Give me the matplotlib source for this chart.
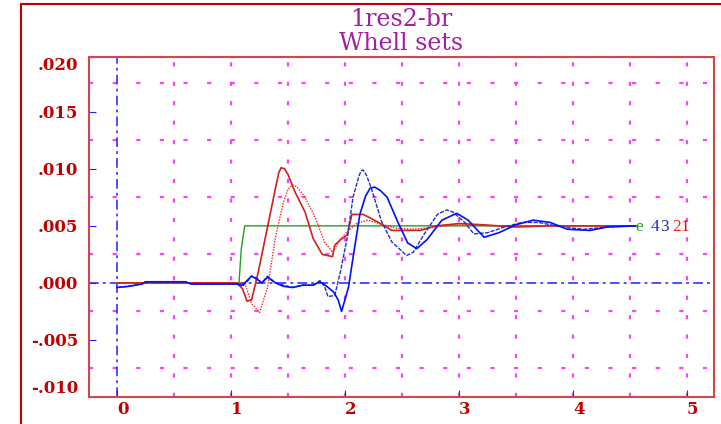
import matplotlib
matplotlib.use('Agg')
from matplotlib import pyplot as plt
from matplotlib.patches import Rectangle
import numpy as np

plt.rcParams['lines.scale_dashes'] = False

# wheel set responses (time s, value)
x1 = [0, 0.6, 1.05, 1.10, 1.14, 1.18, 1.24, 1.32, 1.39, 1.42, 1.44, 1.47, 1.50, 1.56, 1.65, 1.72,
      1.80, 1.89, 1.91, 1.96, 2.02, 2.06, 2.16, 2.22, 2.33, 2.41, 2.55, 2.66, 2.8, 3.0, 3.2, 3.5,
      3.8, 4.2, 4.55]
y1 = [0, 0, 0, -0.0005, -0.0016, -0.0015, 0.0010, 0.0049, 0.0083, 0.0097, 0.0101, 0.0100, 0.0095,
      0.0080, 0.0062, 0.0039, 0.0025, 0.0023, 0.0033, 0.0038, 0.0042, 0.0060, 0.0060, 0.0057,
      0.0051, 0.0046, 0.0046, 0.0046, 0.0050, 0.0052, 0.0051, 0.0049, 0.0050, 0.0050, 0.0050]

x2 = [0, 1.05, 1.12, 1.18, 1.25, 1.32, 1.39, 1.46, 1.50, 1.54, 1.58, 1.65, 1.74, 1.82, 1.89, 1.94,
      2.0, 2.1, 2.2, 2.3, 2.45, 2.6, 2.8, 3.0, 3.3, 3.6, 4.0, 4.55]
y2 = [0, 0, 0, -0.0018, -0.0026, -0.0004, 0.0040, 0.0071, 0.0082, 0.0086, 0.0084, 0.0075, 0.0057,
      0.0036, 0.0027, 0.0035, 0.0043, 0.0052, 0.0055, 0.0052, 0.0048, 0.0047, 0.0049, 0.0051,
      0.0050, 0.0050, 0.0050, 0.0050]

x3 = [0, 0.1, 0.22, 0.25, 0.6, 0.65, 1.05, 1.10, 1.14, 1.18, 1.23, 1.27, 1.32, 1.39, 1.46, 1.54,
      1.63, 1.72, 1.78, 1.82, 1.85, 1.91, 1.96, 2.02, 2.07, 2.12, 2.14, 2.16, 2.19, 2.23, 2.32,
      2.41, 2.54, 2.60, 2.69, 2.81, 2.89, 2.95, 3.05, 3.13, 3.25, 3.4, 3.55, 3.7, 3.9, 4.1, 4.3,
      4.55]
y3 = [-0.0004, -0.0003, -0.0001, 0.0001, 0.0001, -0.0001, -0.0001, -0.0003, 0.0001, 0.0006,
      0.0004, 0.0000, 0.0006, 0.0000, -0.0002, -0.0004, -0.0002, -0.0002, 0.0002, -0.0003,
      -0.0012, -0.0011, 0.0010, 0.0040, 0.0075, 0.0093, 0.0098, 0.0099, 0.0094, 0.0083, 0.0054,
      0.0036, 0.0024, 0.0027, 0.0042, 0.0060, 0.0064, 0.0062, 0.0053, 0.0043, 0.0044, 0.0049,
      0.0053, 0.0053, 0.0049, 0.0047, 0.0049, 0.0050]

x4 = [0, 0.1, 0.22, 0.25, 0.6, 0.65, 1.05, 1.10, 1.14, 1.18, 1.23, 1.27, 1.32, 1.39, 1.46, 1.54,
      1.63, 1.72, 1.78, 1.84, 1.90, 1.94, 1.97, 2.03, 2.07, 2.13, 2.18, 2.22, 2.26, 2.31, 2.37,
      2.46, 2.55, 2.63, 2.72, 2.85, 2.98, 3.08, 3.22, 3.35, 3.5, 3.65, 3.8, 3.95, 4.15, 4.3, 4.55]
y4 = [-0.0004, -0.0003, -0.0001, 0.0001, 0.0001, -0.0001, -0.0001, -0.0002, 0.0002, 0.0006,
      0.0003, 0.0000, 0.0005, 0.0000, -0.0003, -0.0004, -0.0002, -0.0002, 0.0001, -0.0003,
      -0.0008, -0.0015, -0.0025, -0.0004, 0.0022, 0.0060, 0.0076, 0.0083, 0.0084, 0.0081,
      0.0075, 0.0054, 0.0035, 0.0030, 0.0038, 0.0055, 0.0061, 0.0055, 0.0040, 0.0044, 0.0051,
      0.0055, 0.0053, 0.0047, 0.0046, 0.0049, 0.0050]

xe = [0, 1.07, 1.09, 1.12, 4.55]
ye = [0, 0, 0.003, 0.005, 0.005]

xticks = [0, 1, 2, 3, 4, 5]
yticks = [-0.010, -0.005, 0.000, 0.005, 0.010, 0.015, 0.0198]
ylabels = ['-.010', '-.005', '.000', '.005', '.010', '.015', '.020']
grid_x = [0.5, 1, 1.5, 2, 2.5, 3, 3.5, 4, 4.5, 5]
grid_y = [-0.0075, -0.0025, 0.0025, 0.0075, 0.0125, 0.0175, 0.0198]

fig = plt.figure(figsize=(7.21, 4.24), dpi=100)
fig.add_artist(Rectangle((21/721, -0.1), 2, 1.1 - 4/424, transform=fig.transFigure,
                         fill=False, edgecolor='#c00000', linewidth=1.5))
ax = fig.add_axes([89/721, 27/424, 625/721, 340/424])

# grid
for gx in grid_x:
    ax.axvline(gx, color='#ff40ff', lw=1.6, ls=(0, (3, 11)), zorder=1)
for gy in grid_y:
    ax.axhline(gy, color='#ff40ff', lw=1.6, ls=(0, (3, 14)), zorder=1)
ax.axvline(0, color='#2020ff', lw=1.1, ls=(0, (7, 3, 2, 3)), zorder=1)
ax.axhline(0, color='#2020ff', lw=1.1, ls=(0, (7, 3, 2, 3)), zorder=1)

# curves
ax.plot(xe, ye, color='#20a020', lw=1.0, zorder=3)
ax.plot(x1, y1, color='#d02020', lw=1.2, zorder=3)
ax.plot(x2, y2, color='#ff2020', lw=1.0, ls=(0, (1, 1)), zorder=3)
ax.plot(x3, y3, color='#2030c8', lw=1.0, ls=(0, (3, 1)), zorder=3)
ax.plot(x4, y4, color='#0010ff', lw=1.2, zorder=3)

# end labels
labels = ['e', '4', '3', '2', '1']
lcolors = ['#20a020', '#1030e0', '#2030a0', '#ff2020', '#e01010']
offsets = [0, 10.5, 17.5, 26, 32.5]
for lab, c, off in zip(labels, lcolors, offsets):
    ax.annotate(lab, (xe[-1], ye[-1]), xytext=(off, -1), textcoords='offset points',
                ha='left', va='center', color=c, fontsize=12.5, family='Liberation Serif',
                zorder=4)

ax.set_xlim(-0.246, 5.237)
ax.set_ylim(-0.0100, 0.0198)
ax.set_xticks(xticks)
ax.set_xticklabels([str(t) for t in xticks])
ax.set_yticks(yticks)
ax.set_yticklabels(ylabels)
ax.tick_params(direction='in', length=5, color='#2020ff', labelcolor='#c00000')
ax.tick_params(axis='y', pad=8)
ax.tick_params(axis='x', pad=3)
for t in ax.get_xticklabels():
    t.set_fontfamily('DejaVu Serif'); t.set_fontweight('bold'); t.set_fontsize(12)
    t.set_ha('left')
for t in ax.get_yticklabels():
    t.set_fontfamily('DejaVu Serif'); t.set_fontweight('bold'); t.set_fontsize(12)
ax.get_yticklabels()[0].set_va('bottom')
ax.get_yticklabels()[-1].set_va('top')
for s in ax.spines.values():
    s.set_color('#d04848'); s.set_linewidth(1.5)

fig.text(401/721, 1 - 20/424, '1res2-br', ha='center', va='center', color='#a020a0',
         fontsize=17, family='DejaVu Serif')
fig.text(401/721, 1 - 44/424, 'Whell sets', ha='center', va='center', color='#a020a0',
         fontsize=17, family='DejaVu Serif')

fig.savefig('out.png', dpi=100)
